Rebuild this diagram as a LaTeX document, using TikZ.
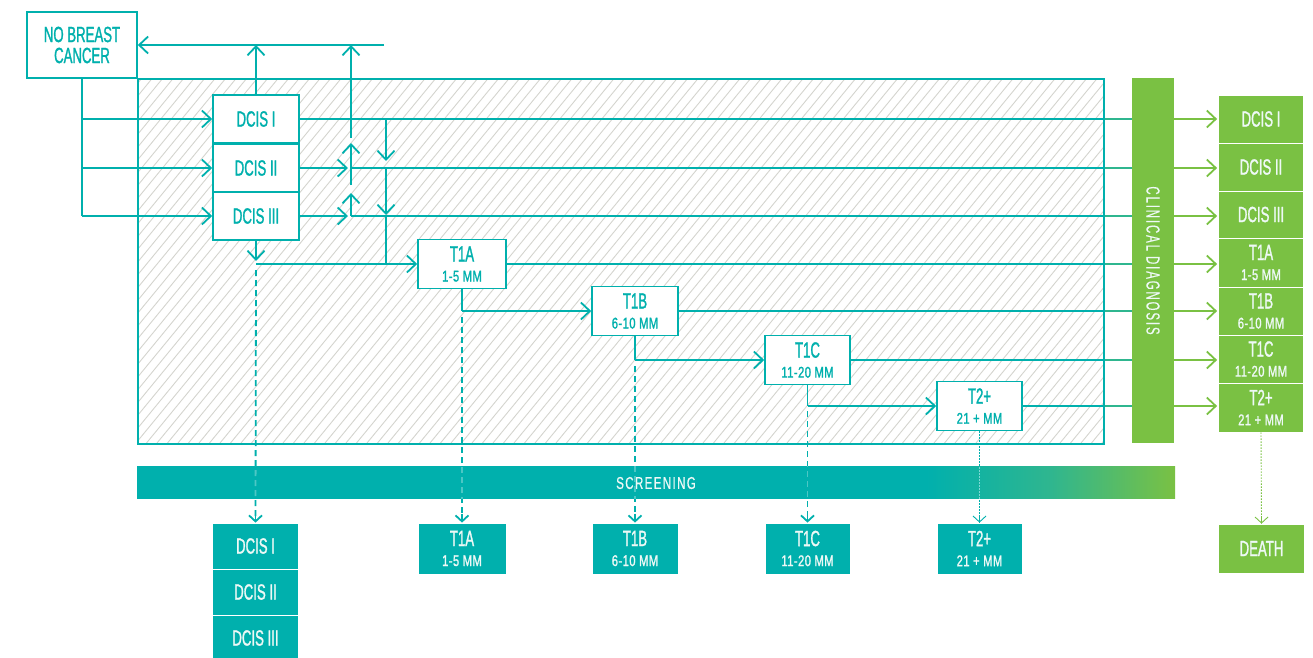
\documentclass[tikz,border=0pt]{standalone}
\usepackage{fontspec}
\setmainfont{Liberation Sans}[FakeStretch=0.6,FakeBold=1.2]
\usetikzlibrary{arrows.meta}
\definecolor{tl}{HTML}{00B0AD}
\definecolor{gr}{HTML}{7AC143}
\definecolor{hatchc}{HTML}{D4D4CE}
\definecolor{midc}{HTML}{2FB68F}
\definecolor{txtw}{HTML}{EEF9F6}
\newcommand\subl[1]{{\fontsize{15.5}{16}\selectfont\addfontfeature{FakeStretch=0.72,LetterSpace=3}#1}}
\pgfdeclarehorizontalshading{scrshade}{100bp}{color(0bp)=(tl); color(63bp)=(tl); color(69bp)=(midc); color(75bp)=(gr); color(100bp)=(gr)}
\begin{document}
\begin{tikzpicture}[x=1pt,y=-1pt,
  lbl/.style={inner sep=0pt,align=center,font=\fontsize{22}{22}\selectfont},
  wbox/.style={lbl,draw=tl,line width=1.6pt,fill=white,text=tl},
  tbox/.style={lbl,fill=tl,draw=white,line width=0.8pt,text=txtw},
  gbox/.style={lbl,fill=gr,draw=white,line width=0.8pt,text=txtw},
  ln/.style={draw=tl,line width=1.8pt},
  gln/.style={draw=gr,line width=1.8pt},
  mln/.style={draw=midc,line width=1.8pt},
  arr/.style={-{Straight Barb[length=9pt,width=17pt]}},
  sarr/.style={-{Straight Barb[length=6pt,width=13pt]}},
  dsh/.style={draw=tl,line width=1.8pt,dash pattern=on 6pt off 4pt},
  dot/.style={line width=0.9pt,dash pattern=on 1.5pt off 1.5pt},
  hatchl/.style={draw=hatchc,line width=0.9pt},
  bartext/.style={rotate=-90,text=txtw,font=\fontsize{19}{19}\selectfont\addfontfeature{LetterSpace=10,FakeBold=0.3}}
]
\useasboundingbox (0,0) rectangle (1313,657);

% hatched area
\begin{scope}
  \clip (137,78) rectangle (1103,443);
  \foreach \i in {0,...,126} \draw[hatchl] ({-200+\i*10.5},443) -- ++(300,-365);
\end{scope}
\node[draw=tl,line width=2pt,minimum width=966,minimum height=365,anchor=north west,inner sep=0pt] (frame) at (137,78) {};

% clinical diagnosis bar (geometry)
\node[fill=gr,minimum width=42,minimum height=365,inner sep=0pt] (bar) at (1153,260.5) {};

% screening bar
\shade[shading=scrshade] (137,466) rectangle (1175,498);
\node[text=txtw,font=\fontsize{17}{17}\selectfont\addfontfeature{LetterSpace=8,FakeBold=0.6,FakeStretch=0.68}] (scr) at (656,483) {SCREENING};

% left boxes
\node[wbox,minimum width=110,minimum height=66] (nbc) at (82,45) {NO BREAST\\[-1pt]CANCER};
\node[wbox,minimum width=86,minimum height=48] (d1) at (256,119) {DCIS I};
\node[wbox,minimum width=86,minimum height=48] (d2) at (256,168) {DCIS II};
\node[wbox,minimum width=86,minimum height=48] (d3) at (256,216) {DCIS III};
\node[wbox,minimum width=88,minimum height=49] (t1a) at (462,264) {T1A\\[-2pt]\subl{1-5 MM}};
\node[wbox,minimum width=86,minimum height=49] (t1b) at (635,311) {T1B\\[-2pt]\subl{6-10 MM}};
\node[wbox,minimum width=85,minimum height=49] (t1c) at (807.5,360) {T1C\\[-2pt]\subl{11-20 MM}};
\node[wbox,minimum width=85,minimum height=49] (t2) at (979.5,406) {T2+\\[-2pt]\subl{21 + MM}};

% right green boxes
\node[gbox,minimum width=85,minimum height=48] (rd1) at (1261,119) {DCIS I};
\node[gbox,minimum width=85,minimum height=48] (rd2) at (1261,167) {DCIS II};
\node[gbox,minimum width=85,minimum height=47] (rd3) at (1261,214.5) {DCIS III};
\node[gbox,minimum width=85,minimum height=49] (rt1a) at (1261,262.5) {T1A\\[-2pt]\subl{1-5 MM}};
\node[gbox,minimum width=85,minimum height=48] (rt1b) at (1261,311) {T1B\\[-2pt]\subl{6-10 MM}};
\node[gbox,minimum width=85,minimum height=48] (rt1c) at (1261,359) {T1C\\[-2pt]\subl{11-20 MM}};
\node[gbox,minimum width=85,minimum height=49] (rt2) at (1261,407.5) {T2+\\[-2pt]\subl{21 + MM}};
\node[gbox,minimum width=86,minimum height=49] (death) at (1261.5,548.5) {DEATH};

% bottom teal boxes
\node[tbox,minimum width=86,minimum height=46] (bd1) at (255.5,546) {DCIS I};
\node[tbox,minimum width=86,minimum height=46] (bd2) at (255.5,592) {DCIS II};
\node[tbox,minimum width=86,minimum height=46] (bd3) at (255.5,638) {DCIS III};
\node[tbox,minimum width=88,minimum height=51] (bt1a) at (462,548.5) {T1A\\[-2pt]\subl{1-5 MM}};
\node[tbox,minimum width=86,minimum height=51] (bt1b) at (635,548.5) {T1B\\[-2pt]\subl{6-10 MM}};
\node[tbox,minimum width=85,minimum height=51] (bt1c) at (807.5,548.5) {T1C\\[-2pt]\subl{11-20 MM}};
\node[tbox,minimum width=85,minimum height=51] (bt2) at (979.5,548.5) {T2+\\[-2pt]\subl{21 + MM}};

% coordinates
\coordinate (topR) at (384,45);
\coordinate (jB) at (351,168);
\coordinate (jA) at (351,216);
\coordinate (upA) at (351,193);
\coordinate (upB0) at (351,185);
\coordinate (upB) at (351,143);
\coordinate (upC0) at (351,138);
\coordinate (upC) at (351,45);
\coordinate (dnA) at (386,119);
\coordinate (dnA1) at (386,161);
\coordinate (dnB) at (386,168);
\coordinate (dnB1) at (386,215);
\coordinate (dnC) at (386,264);
\coordinate (dTip) at (256,261);
\coordinate (dJ) at (256,264);
\coordinate (dS) at (256,270);
\coordinate (aS) at (462,317);
\coordinate (bS) at (635,366);
\coordinate (cS) at (807.5,411);

% lines to the right
\foreach \s/\b in {d1.east/rd1, jB/rd2, jA/rd3, t1a.east/rt1a, t1b.east/rt1b, t1c.east/rt1c, t2.east/rt2}{
  \draw[ln] (\s) -- (\s -| frame.east);
  \draw[mln] (\s -| frame.east) -- (\s -| bar.west);
  \draw[gln,arr] (\s -| bar.east) -- ([xshift=-1pt]\s -| \b.west);
}
% bar drawn over the lines
\node[fill=gr,minimum width=42,minimum height=365,inner sep=0pt] (barfill) at (bar.center) {};
\node[bartext] (bartxt) at (bar.center) {CLINICAL DIAGNOSIS};

% no breast cancer feeds
\draw[ln] (nbc.south) -- (nbc.south |- d3.west);
\foreach \d in {d1,d2,d3} \draw[ln,arr] (nbc.south |- \d.west) -- (\d.west);
\draw[ln,arr] (topR) -- (nbc.east);
\draw[ln,arr] (d1.north) -- (d1.north |- nbc.east);

% regressions / progressions among DCIS
\draw[ln,arr] (d2.east) -- ([xshift=-3pt]jB);
\draw[ln,arr] (d3.east) -- ([xshift=-3pt]jA);
\draw[ln,arr] (jA) -- (upA);
\draw[ln,arr] (upB0) -- (upB);
\draw[ln,arr] (upC0) -- (upC);
\draw[ln,arr] (dnA) -- (dnA1);
\draw[ln,arr] (dnB) -- (dnB1);
\draw[ln] (dnB1) -- (dnC);

% progression to invasive tumours
\draw[ln,arr] (d3.south) -- (dTip);
\draw[ln,arr] (dJ) -- (t1a.west);
\draw[ln] (t1a.south) -- (t1a.south |- t1b.west);
\draw[ln,arr] (t1a.south |- t1b.west) -- (t1b.west);
\draw[ln] (t1b.south) -- (t1b.south |- t1c.west);
\draw[ln,arr] (t1b.south |- t1c.west) -- (t1c.west);
\draw[ln] (t1c.south) -- (t1c.south |- t2.west);
\draw[ln,arr] (t1c.south |- t2.west) -- (t2.west);

% screening detection (dashed)
\foreach \s/\b in {dS/bd1, aS/bt1a, bS/bt1b, cS/bt1c}{
  \draw[dsh] (\s) -- ([yshift=1pt]\b.north);
  \draw[ln,sarr] ([yshift=9pt]\b.north) -- (\b.north);
  \begin{scope}
    \clip (137,466) rectangle (1175,498);
    \draw[dsh,draw=white,opacity=0.3] (\s) -- (\b.north);
  \end{scope}
}
\draw[tl,dot] (t2.south) -- (bt2.north);
\draw[tl,line width=0.9pt,sarr] ([yshift=8pt]bt2.north) -- (bt2.north);
\begin{scope}
  \clip (137,466) rectangle (1175,498);
  \draw[white,dot,opacity=0.5] (t2.south) -- (bt2.north);
\end{scope}
\draw[gr,dot] (rt2.south) -- (death.north);
\draw[gr,line width=0.9pt,sarr] ([yshift=8pt]death.north) -- (death.north);
\end{tikzpicture}
\end{document}
